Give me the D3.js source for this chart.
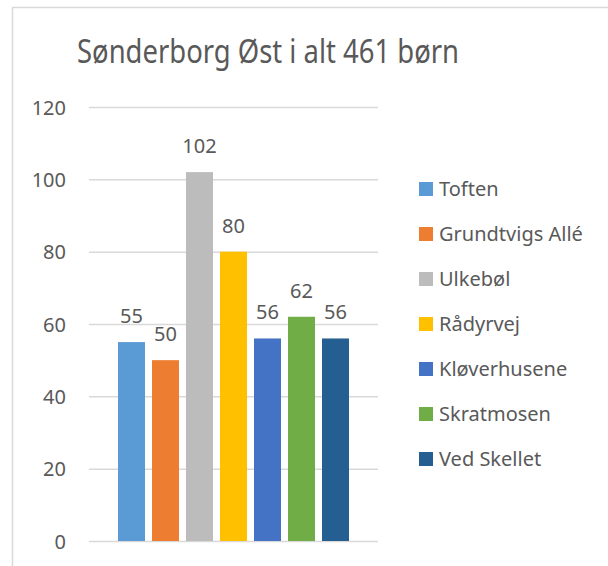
<!DOCTYPE html>
<html>
<head>
<meta charset="utf-8">
<script src="https://cdn.jsdelivr.net/npm/d3@7"></script>
<style>
  body { margin: 0; background: #fff; }
  svg text { font-family: "Noto Sans", "Open Sans", sans-serif; fill: #595959; }
</style>
</head>
<body>
<div id="chart"></div>
<script>
// data
const skoler = ["Toften", "Grundtvigs Allé", "Ulkebøl", "Rådyrvej", "Kløverhusene", "Skratmosen", "Ved Skellet"];
const boern = [55, 50, 102, 80, 56, 62, 56];
const farver = ["#5b9bd5", "#ed7d31", "#bcbcbc", "#ffc000", "#4472c4", "#70ad47", "#255e91"];
const yTicks = [0, 20, 40, 60, 80, 100, 120];
const titel = "Sønderborg Øst i alt 461 børn";

const width = 608, height = 566;
const plot = { left: 89, right: 378, top: 107, bottom: 541 };

const svg = d3.select("#chart")
  .append("svg")
  .attr("width", width)
  .attr("height", height);

// chart frame (only top and left edges visible in the crop)
svg.append("rect")
  .attr("x", 12.5)
  .attr("y", 7.5)
  .attr("width", width + 20)
  .attr("height", height + 20)
  .attr("fill", "#fff")
  .attr("stroke", "#d9d9d9")
  .attr("stroke-width", 1.5);

// SCALES
const yScale = d3.scaleLinear().domain([0, 120]).range([plot.bottom, plot.top]);
const xScale = d3.scaleBand()
  .domain(skoler)
  .range([118, 349])
  .paddingInner(7 / 34)
  .paddingOuter(0);
const color = d3.scaleOrdinal().domain(skoler).range(farver);

// gridlines + tick labels
const yAxis = d3.axisLeft(yScale)
  .tickValues(yTicks)
  .tickSize(-(plot.right - plot.left))
  .tickPadding(23);

const gAxis = svg.append("g")
  .attr("transform", `translate(${plot.left},0)`)
  .call(yAxis);
gAxis.select(".domain").remove();
gAxis.selectAll(".tick line").attr("stroke", "#d9d9d9").attr("stroke-width", 1.5);
gAxis.selectAll(".tick text")
  .attr("fill", "#595959")
  .style("font-size", "20px")
  .attr("dy", "0.36em");

// bars
svg.append("g")
  .selectAll("rect")
  .data(skoler)
  .enter()
  .append("rect")
  .attr("x", (d) => xScale(d))
  .attr("y", (d, i) => yScale(boern[i]))
  .attr("width", xScale.bandwidth())
  .attr("height", (d, i) => yScale(0) - yScale(boern[i]))
  .attr("fill", (d) => color(d));

// value labels
svg.append("g")
  .selectAll("text")
  .data(skoler)
  .enter()
  .append("text")
  .text((d, i) => boern[i])
  .attr("x", (d) => xScale(d) + xScale.bandwidth() / 2)
  .attr("y", (d, i) => yScale(boern[i]) - 19)
  .attr("text-anchor", "middle")
  .style("font-size", "20px");

// title
svg.append("text")
  .text(titel)
  .attr("x", 268)
  .attr("y", 63)
  .attr("text-anchor", "middle")
  .attr("textLength", 382)
  .attr("lengthAdjust", "spacingAndGlyphs")
  .style("font-size", "32px");

// legend
const legend = svg.append("g")
  .selectAll("g")
  .data(skoler)
  .enter()
  .append("g")
  .attr("transform", (d, i) => `translate(419, ${189 + i * 45})`);

legend.append("rect")
  .attr("x", 0)
  .attr("y", -7)
  .attr("width", 14)
  .attr("height", 14)
  .attr("fill", (d) => color(d));

legend.append("text")
  .text((d) => d)
  .attr("x", 20)
  .attr("y", 0)
  .attr("dy", "0.36em")
  .style("font-size", "20px");
</script>
</body>
</html>
